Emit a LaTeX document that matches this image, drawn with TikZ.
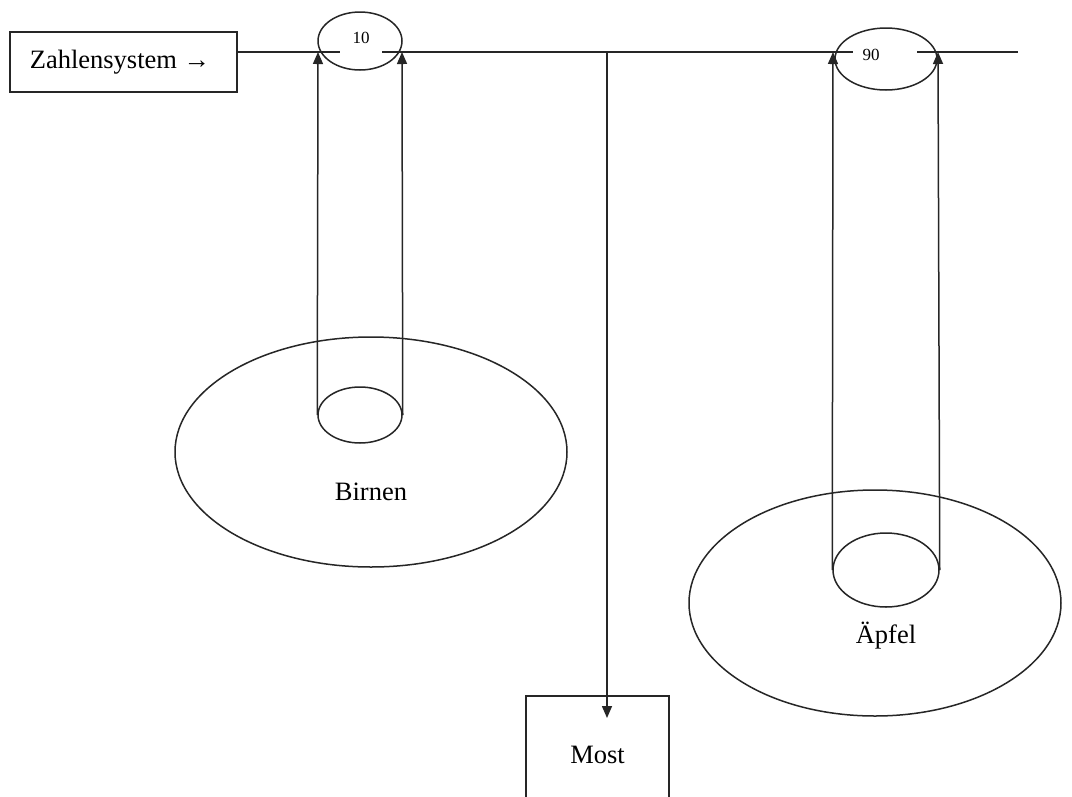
\documentclass[tikz,border=0pt]{standalone}
\usepackage{fontspec}
\setmainfont{Liberation Serif}
\usetikzlibrary{shapes.geometric,arrows.meta}
\begin{document}
\begin{tikzpicture}[x=1pt,y=-1pt,
  ln/.style={line width=1.5pt,black!85},
  arr/.style={ln,-{Triangle[length=12pt,width=10pt]}},
  ell/.style={ellipse,draw,line width=1.5pt,black!85,inner sep=0pt},
  boxn/.style={rectangle,draw,line width=1.5pt,black!85,inner sep=0pt},
  lbl/.style={font=\fontsize{26.5}{30}\selectfont},
  small/.style={font=\fontsize{17}{19}\selectfont,inner sep=0pt}]
\fill[white] (0,0) rectangle (1072,796);
\useasboundingbox (0,0) rectangle (1072,796);
\clip (0,0) rectangle (1072,796);
% big ellipses
\node[ell,minimum width=392pt,minimum height=230pt] (B) at (371,452) {};
\node[ell,minimum width=372pt,minimum height=226pt] (A) at (875,603) {};
% top ellipses
\node[ell,minimum width=84pt,minimum height=58pt] (e10) at (360,41) {};
\node[ell,minimum width=102pt,minimum height=62pt] (e90) at (886,59) {};
% bottom small ellipses
\node[ell,minimum width=84pt,minimum height=56pt] (b1) at (360,415) {};
\node[ell,minimum width=106pt,minimum height=74pt] (b2) at (886,570) {};
% boxes
\node[boxn,minimum width=227pt,minimum height=60pt] (zs) at (123.5,62) {};
\node[lbl] at (120,62) {Zahlensystem →};
\node[boxn,minimum width=143pt,minimum height=114pt] (most) at (597.5,753) {};
\node[lbl] at (597.5,755) {Most};
\node[lbl] at (371,492) {Birnen};
\node[lbl] at (886,636) {Äpfel};
\node[small] at (361,38) {10};
\node[small] at (871,55) {90};
% coordinates
\coordinate (g1) at (340,52);
\coordinate (g2) at (382,52);
\coordinate (g3) at (853,52);
\coordinate (g4) at (917,52);
\coordinate (rend) at (1018,52);
\coordinate (t1) at (318,52);
\coordinate (t2) at (402,52);
\coordinate (t3) at (833,52);
\coordinate (t4) at (938,52);
\coordinate (mtop) at (607,52);
\coordinate (mend) at (607,718);
% horizontal line with gaps
\draw[ln] (zs.east |- g1) -- (g1);
\draw[ln] (g2) -- (g3);
\draw[ln] (g4) -- (rend);
% vertical arrows
\draw[arr] (b1.west) -- (t1);
\draw[arr] (b1.east) -- (t2);
\draw[arr] (b2.west) -- (t3);
\draw[arr] (b2.east) -- (t4);
\draw[arr] (mtop) -- (mend);
\end{tikzpicture}
\end{document}
